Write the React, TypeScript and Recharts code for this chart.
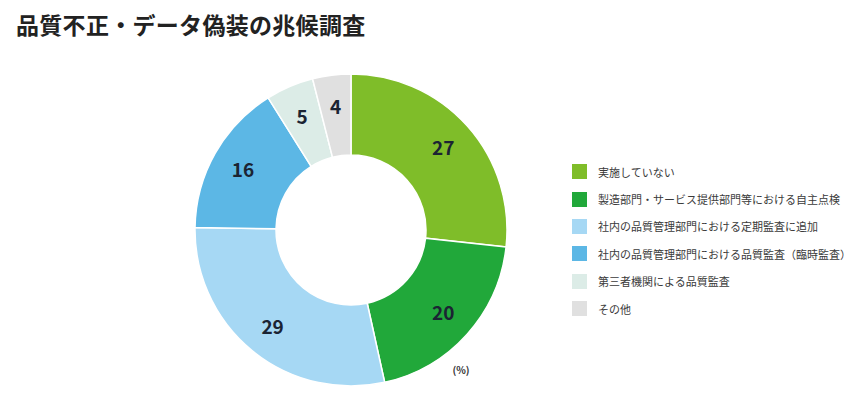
import { PieChart, Pie, Cell, Legend } from 'recharts';

// 調査項目
const categories = [
  '実施していない',
  '製造部門・サービス提供部門等における自主点検',
  '社内の品質管理部門における定期監査に追加',
  '社内の品質管理部門における品質監査（臨時監査）',
  '第三者機関による品質監査',
  'その他',
];

// 割合 (%)
const values = [27, 20, 29, 16, 5, 4];

const COLORS = ['#7fbd29', '#21a83a', '#a6d8f4', '#5cb7e5', '#dcece7', '#e0e0e0'];

const FONT = '"Noto Sans CJK JP", "Noto Sans", sans-serif';

const data = categories.map((name, i) => ({ name, value: values[i] }));

const RADIAN = Math.PI / 180;

const renderLabel = ({ cx, cy, midAngle, value }: any) => {
  const r = 124;
  const x = cx + r * Math.cos(-midAngle * RADIAN);
  const y = cy + r * Math.sin(-midAngle * RADIAN) - 1;
  return (
    <text
      x={x}
      y={y}
      fill="#1b2433"
      textAnchor="middle"
      dominantBaseline="central"
      fontFamily={FONT}
      fontWeight={700}
      fontSize={19}
    >
      {value}
    </text>
  );
};

const CustomLegend = () => (
  <div style={{ fontFamily: FONT }}>
    {data.map((entry, index) => (
      <div key={`leg-${index}`} style={{ display: 'flex', alignItems: 'center', height: 27.4 }}>
        <div style={{ width: 15, height: 15, background: COLORS[index], marginRight: 11 }} />
        <span style={{ fontSize: 11, color: '#3a3a3a', whiteSpace: 'nowrap' }}>{entry.name}</span>
      </div>
    ))}
  </div>
);

export default function App() {
  return (
    <div style={{ position: 'relative', width: 861, height: 397, background: '#fff', margin: -8 }}>
      <div
        style={{
          position: 'absolute',
          left: 16,
          top: 7,
          fontFamily: FONT,
          fontWeight: 700,
          fontSize: 23,
          color: '#222',
          letterSpacing: 0.3,
        }}
      >
        品質不正・データ偽装の兆候調査
      </div>
      <PieChart width={861} height={397} margin={{ top: 0, right: 0, bottom: 0, left: 0 }}>
        <Pie
          data={data}
          dataKey="value"
          nameKey="name"
          cx={351}
          cy={230}
          innerRadius={75}
          outerRadius={156}
          startAngle={90}
          endAngle={-270}
          stroke="#fff"
          strokeWidth={1.5}
          label={renderLabel}
          labelLine={false}
          isAnimationActive={false}
        >
          {data.map((entry, index) => (
            <Cell key={`cell-${index}`} fill={COLORS[index]} />
          ))}
        </Pie>
        <Legend
          layout="vertical"
          content={<CustomLegend />}
          wrapperStyle={{ left: 572, top: 158, width: 280 }}
        />
        <text x={461} y={369} textAnchor="middle" dominantBaseline="central" fontFamily={FONT} fontSize={10} fontWeight={700} fill="#333">
          (%)
        </text>
      </PieChart>
    </div>
  );
}
